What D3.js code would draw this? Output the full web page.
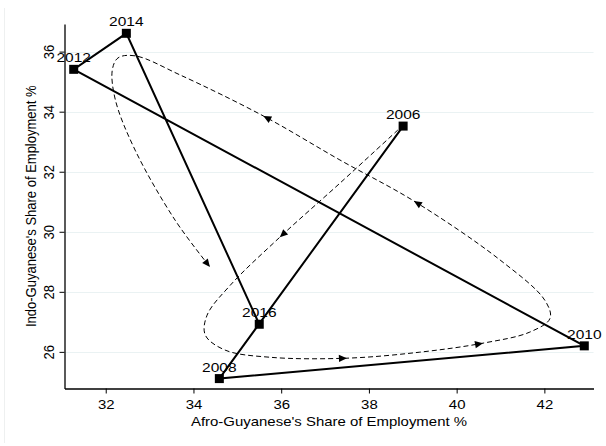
<!DOCTYPE html>
<html>
<head>
<meta charset="utf-8">
<script src="https://cdn.jsdelivr.net/npm/d3@7"></script>
<style>
  html, body { margin: 0; padding: 0; background: #fff; }
  svg { display: block; font-family: "Liberation Sans", Arial, Helvetica, sans-serif; }
</style>
</head>
<body>
<svg id="chart" width="606" height="446"></svg>
<script>
// Survey years and employment shares (%)
const years = ["2006", "2008", "2010", "2012", "2014", "2016"];
const afroShare = [38.78, 34.59, 42.91, 31.27, 32.47, 35.50];
const indoShare = [33.52, 25.11, 26.20, 35.41, 36.61, 26.92];

// Tick values
const xTicks = [32, 34, 36, 38, 40, 42];
const yTicks = [26, 28, 30, 32, 34, 36];

// Guide loop showing the direction of the cycle (afro, indo)
const loopX = [38.66, 37.34, 35.97, 34.84, 34.31, 34.27, 34.72, 35.75, 37.50, 39.16, 40.60, 41.67, 42.13, 42.01, 40.99, 39.03, 37.34, 35.59, 33.70, 32.67, 32.28, 32.15, 32.22, 32.67, 33.58, 34.38];
const loopY = [33.39, 31.62, 29.82, 28.22, 27.22, 26.56, 26.06, 25.82, 25.79, 25.99, 26.29, 26.66, 27.12, 27.72, 29.06, 31.02, 32.39, 33.86, 35.22, 35.86, 35.79, 35.39, 34.39, 32.72, 30.39, 28.82];
// indices on the loop that carry an arrowhead
const loopArrows = [2, 8, 10, 15, 17, 25];

const FONT = 13;
const SX = 1.15; // horizontal widening of lettering
const svg = d3.select("#chart");

const x = d3.scaleLinear().domain([31.06, 43.12]).range([64.5, 593.5]);
const y = d3.scaleLinear().domain([24.78, 36.92]).range([388.5, 24]);

// faint outer frame edge
svg.append("line")
  .attr("x1", 4.5).attr("x2", 4.5).attr("y1", 8).attr("y2", 443)
  .attr("stroke", "#eef0f0").attr("stroke-width", 1);

// grid lines
svg.append("g").selectAll("line").data(yTicks).join("line")
  .attr("x1", x.range()[0]).attr("x2", x.range()[1])
  .attr("y1", d => Math.round(y(d)) + 0.5).attr("y2", d => Math.round(y(d)) + 0.5)
  .attr("stroke", "#eaf2f3").attr("stroke-width", 1.2);

// axes
const xAxis = d3.axisBottom(x).tickValues(xTicks).tickSize(5).tickPadding(4).tickSizeOuter(0);
const yAxis = d3.axisLeft(y).tickValues(yTicks).tickSize(5).tickPadding(3).tickSizeOuter(0);

const gx = svg.append("g").attr("transform", "translate(0,388.5)").call(xAxis);
gx.select(".domain").attr("stroke", "#000").attr("stroke-width", 1.3);
gx.selectAll(".tick line").attr("stroke", "#000");
gx.selectAll(".tick text")
  .attr("font-size", FONT).attr("font-family", "Liberation Sans, Arial, sans-serif").attr("fill", "#000")
  .attr("y", 0).attr("dy", 0)
  .attr("transform", `translate(0,409) scale(${SX},1)`.replace("409", 20.5));

const gy = svg.append("g").attr("transform", "translate(64.5,0)").call(yAxis);
gy.select(".domain").attr("stroke", "#000").attr("stroke-width", 1.3);
gy.selectAll(".tick line").attr("stroke", "#000");
gy.selectAll(".tick text")
  .attr("font-size", FONT).attr("font-family", "Liberation Sans, Arial, sans-serif").attr("fill", "#000")
  .attr("text-anchor", "middle").attr("dy", 0)
  .attr("x", 0).attr("y", 0)
  .attr("transform", `translate(-11,0) scale(${SX},1) rotate(-90)`);

// axis titles
svg.append("text")
  .attr("transform", `translate(${(x.range()[0] + x.range()[1]) / 2},425.5) scale(${SX},1)`)
  .attr("text-anchor", "middle").attr("font-size", FONT)
  .text("Afro-Guyanese's Share of Employment %");

svg.append("text")
  .attr("transform", `translate(35.5,${(y.range()[0] + y.range()[1]) / 2}) scale(${SX},1) rotate(-90)`)
  .attr("text-anchor", "middle").attr("font-size", FONT)
  .text("Indo-Guyanese's Share of Employment %");

// dashed guide loop
const loopPts = loopX.map((v, i) => [x(v), y(loopY[i])]);
const loopPath = svg.append("path")
  .attr("d", d3.line().curve(d3.curveCatmullRom.alpha(0.5))(loopPts))
  .attr("fill", "none").attr("stroke", "#000").attr("stroke-width", 1)
  .attr("stroke-dasharray", "5,3");

// arrowheads oriented along the loop
const node = loopPath.node();
const total = node.getTotalLength();
const samples = d3.range(0, total, 0.5).map(l => ({ l, p: node.getPointAtLength(l) }));
loopArrows.forEach(idx => {
  const [tx, ty] = loopPts[idx];
  let best = samples[0], bd = Infinity;
  samples.forEach(s => {
    const d = (s.p.x - tx) ** 2 + (s.p.y - ty) ** 2;
    if (d < bd) { bd = d; best = s; }
  });
  const a = node.getPointAtLength(Math.max(0, best.l - 2));
  const b = node.getPointAtLength(Math.min(total, best.l + 2));
  const ang = Math.atan2(b.y - a.y, b.x - a.x) * 180 / Math.PI;
  const tip = node.getPointAtLength(best.l);
  svg.append("path")
    .attr("d", "M0,0 L-8,-3.6 L-8,3.6 Z")
    .attr("fill", "#000")
    .attr("transform", `translate(${tip.x},${tip.y}) rotate(${ang})`);
});

// trajectory line
const pts = years.map((yr, i) => ({ yr, ax: afroShare[i], iy: indoShare[i] }));
svg.append("path")
  .attr("d", d3.line().x(d => x(d.ax)).y(d => y(d.iy))(pts))
  .attr("fill", "none").attr("stroke", "#000").attr("stroke-width", 2)
  .attr("stroke-linejoin", "miter");

// markers
const ms = 9;
svg.append("g").selectAll("rect").data(pts).join("rect")
  .attr("x", d => x(d.ax) - ms / 2).attr("y", d => y(d.iy) - ms / 2)
  .attr("width", ms).attr("height", ms).attr("fill", "#000");

// year labels
svg.append("g").selectAll("text").data(pts).join("text")
  .attr("transform", d => `translate(${x(d.ax)},${y(d.iy) - 7}) scale(${SX},1)`)
  .attr("text-anchor", "middle").attr("font-size", FONT + 0.5).attr("fill", "#000")
  .text(d => d.yr);
</script>
</body>
</html>
